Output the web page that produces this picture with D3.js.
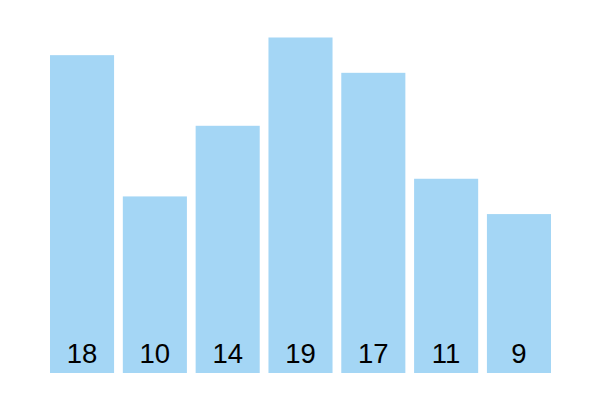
<!DOCTYPE html>
<html><head><meta charset="utf-8">
<script src="https://cdn.jsdelivr.net/npm/d3@7"></script>
<style>html,body{margin:0;padding:0;background:#fff;}</style>
</head><body>
<script>
const categories = ["A","B","C","D","E","F","G"];
const values = [18, 10, 14, 19, 17, 11, 9];

const W = 600, H = 417;
const svg = d3.select("body").append("svg").attr("width", W).attr("height", H);

const x = d3.scaleBand().domain(categories).range([50, 551]).paddingInner(0.12).paddingOuter(0);
const y = d3.scaleLinear().domain([0, 19]).range([373, 37.5]);

svg.selectAll("rect.bar").data(values).join("rect")
  .attr("class","bar")
  .attr("x", (d,i) => x(categories[i]))
  .attr("y", d => y(d))
  .attr("width", x.bandwidth())
  .attr("height", d => y(0) - y(d))
  .attr("fill", "#a4d6f5");

svg.selectAll("text.lbl").data(values).join("text")
  .attr("class","lbl")
  .attr("x", (d,i) => x(categories[i]) + x.bandwidth()/2)
  .attr("y", 363)
  .attr("text-anchor","middle")
  .attr("font-family","Liberation Sans, Arial, Helvetica, sans-serif")
  .attr("font-size", 27.5)
  .attr("fill","#000")
  .text(d => d);
</script>
</body></html>
